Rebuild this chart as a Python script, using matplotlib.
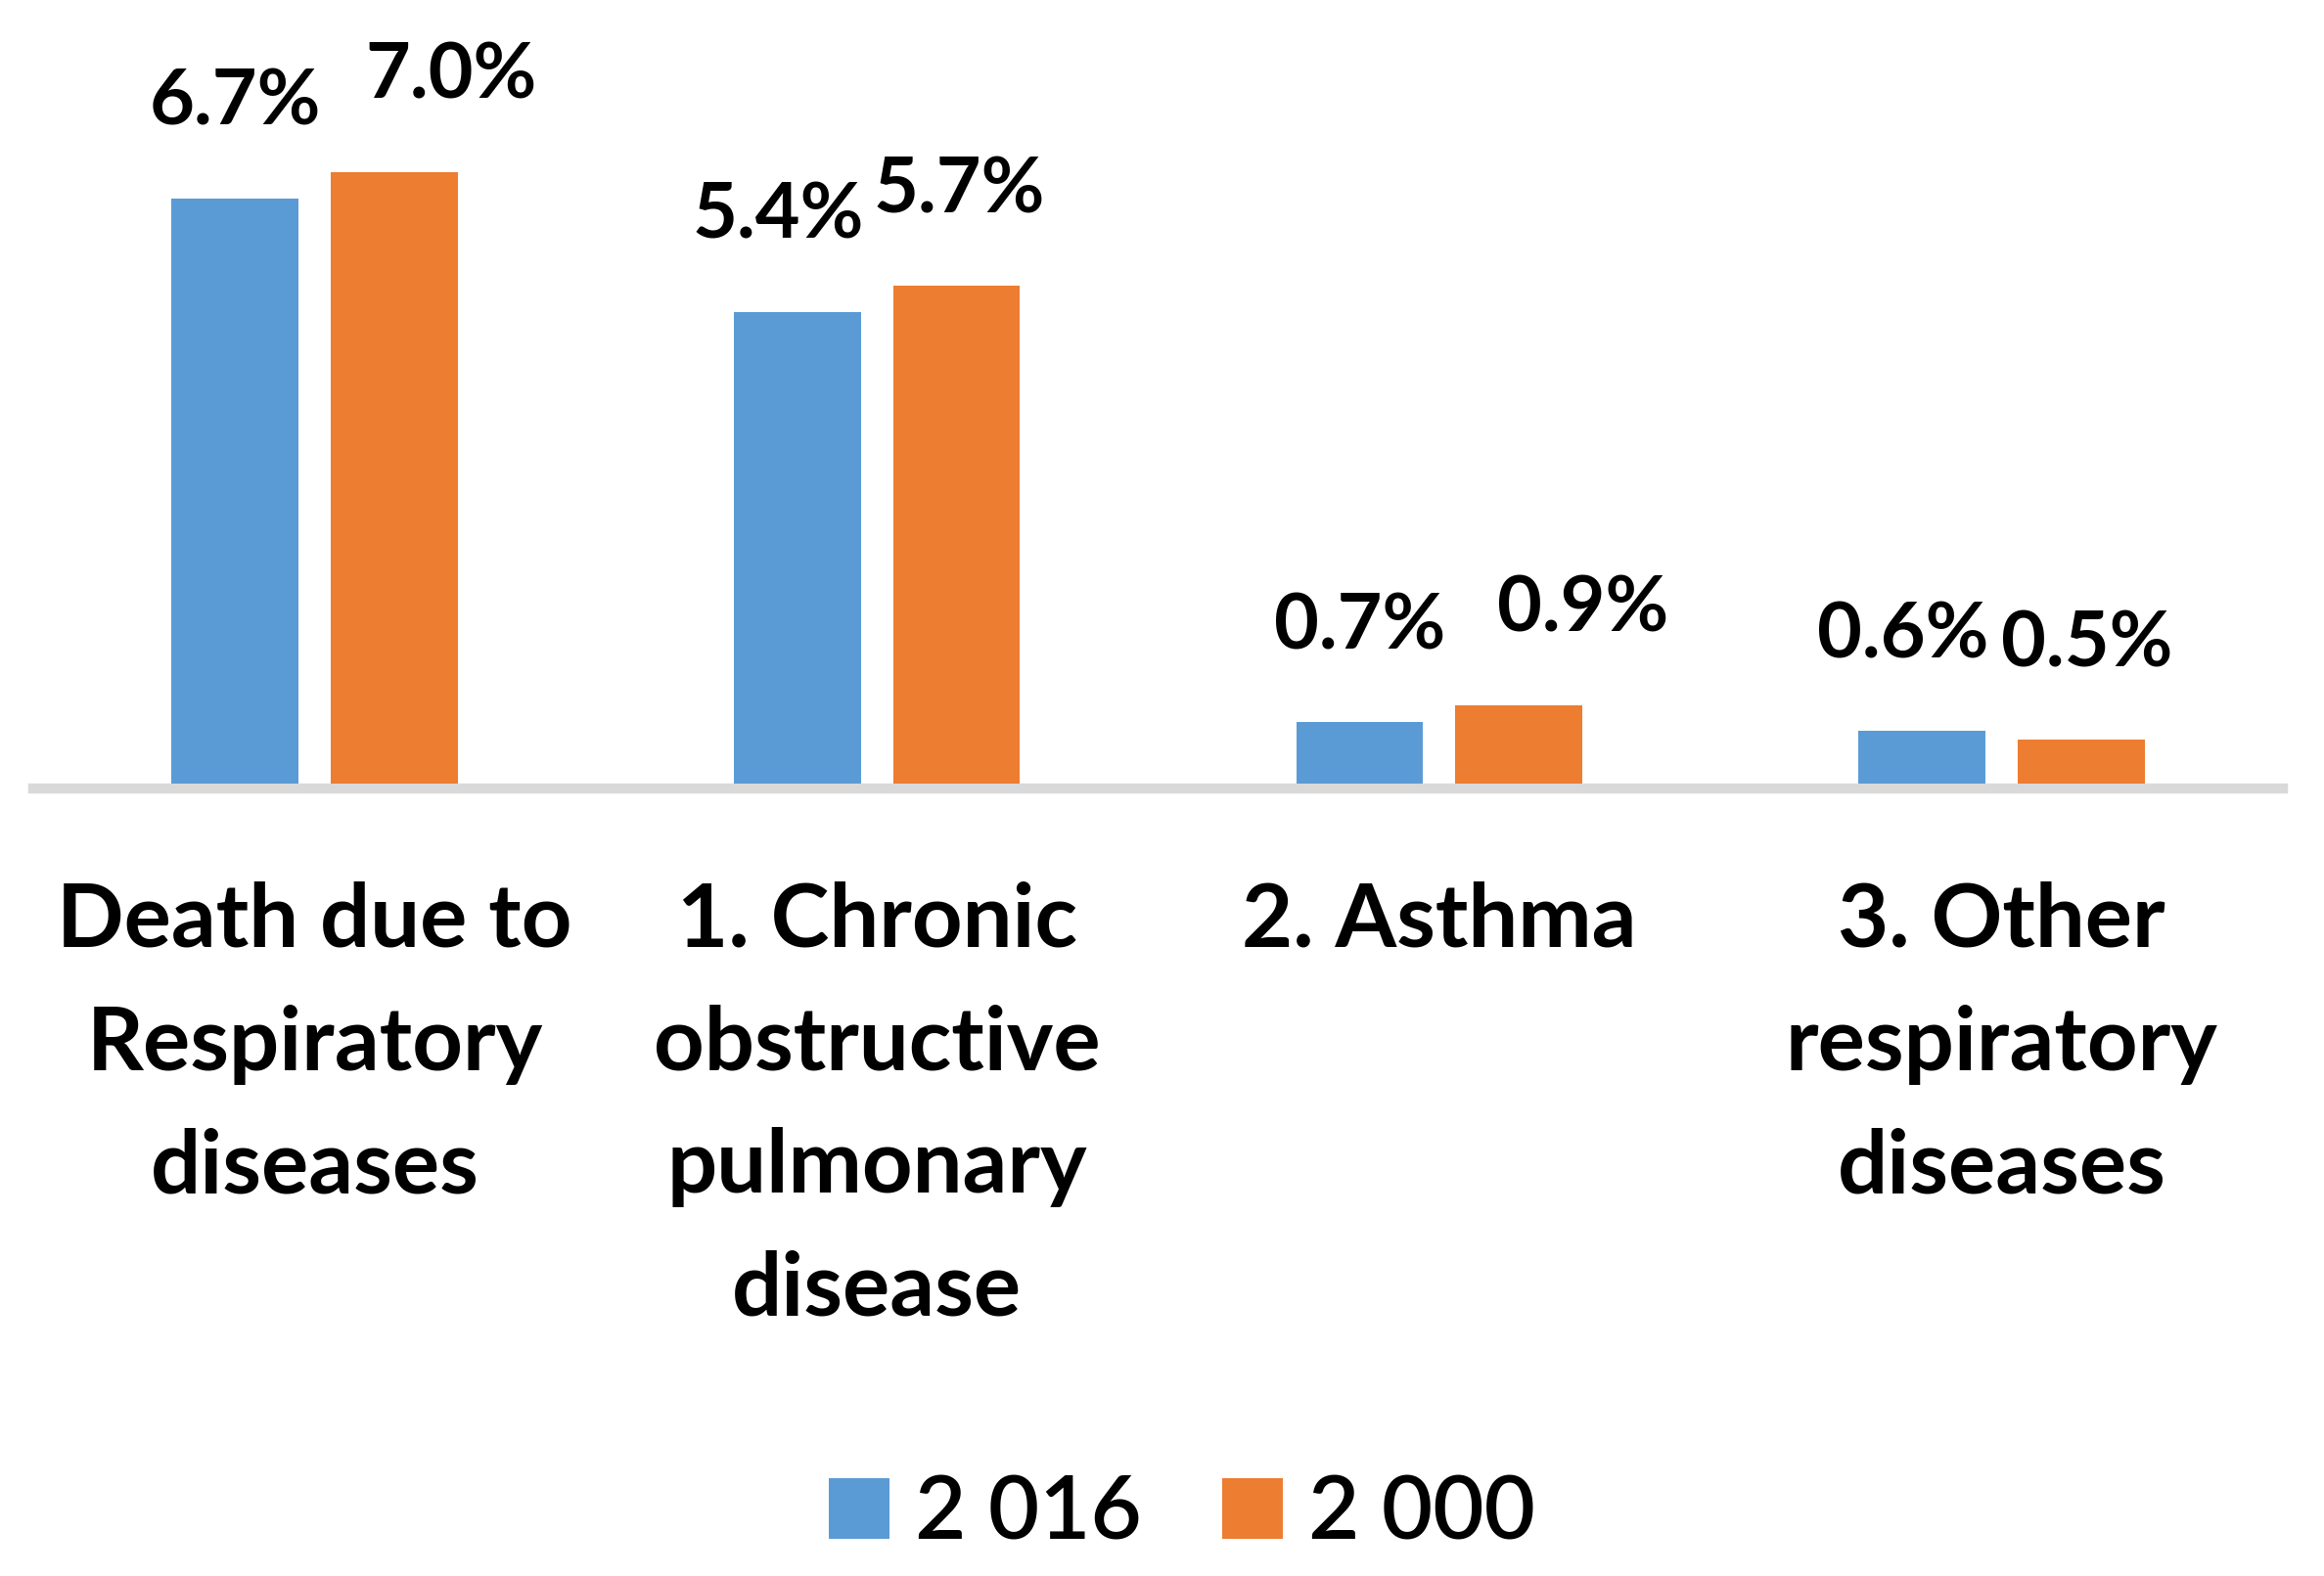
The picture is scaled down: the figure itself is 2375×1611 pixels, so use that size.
import matplotlib
matplotlib.use("Agg")
from matplotlib import pyplot as plt
import numpy as np

# data
categories = ["Death due to\nRespiratory\ndiseases",
              "1. Chronic\nobstructive\npulmonary\ndisease",
              "2. Asthma",
              "3. Other\nrespiratory\ndiseases"]
series_names = ["2 016", "2 000"]
values_2016 = [6.7, 5.4, 0.7, 0.6]
values_2000 = [7.0, 5.7, 0.9, 0.5]

blue = "#5B9BD5"
orange = "#ED7D31"

# small horizontal nudges of the value labels (points), as in the original
nudge_2016 = [0, -14, 0, -14]
nudge_2000 = [42, 2, 47, 4]

plt.rcParams["font.family"] = ["Lato", "DejaVu Sans"]

fig = plt.figure(figsize=(23.75, 16.11), dpi=100)
ax = fig.add_axes([34 / 2375, 1 - 801 / 1611, (2333 - 34) / 2375, 801 / 1611])

x = np.arange(len(categories))
width = 0.226
shift = 0.1415

bars_a = ax.bar(x - shift, values_2016, width, color=blue, label=series_names[0], zorder=3)
bars_b = ax.bar(x + shift, values_2000, width, color=orange, label=series_names[1], zorder=3)

for bars, vals, nudge in [(bars_a, values_2016, nudge_2016), (bars_b, values_2000, nudge_2000)]:
    for b, v, dx in zip(bars, vals, nudge):
        ax.annotate(f"{v:.1f}%", (b.get_x() + b.get_width() / 2, v),
                    xytext=(dx, 54), textcoords="offset points",
                    ha="center", va="baseline", fontsize=57, fontweight="bold")

ax.set_xlim(-0.5, len(categories) - 0.5)
ax.set_ylim(0, 8.97)
ax.set_yticks([])
ax.set_xticks([])
for s in ["top", "left", "right"]:
    ax.spines[s].set_visible(False)
ax.spines["bottom"].set_color("#D9D9D9")
ax.spines["bottom"].set_linewidth(7.5)
ax.spines["bottom"].set_position(("outward", 3.75))
ax.patch.set_visible(False)

# category labels below the axis line
trans = matplotlib.transforms.blended_transform_factory(ax.transData, fig.transFigure)
for xi, lab in zip(x, categories):
    ax.text(xi, 1 - 901 / 1611, lab, transform=trans, ha="center", va="top",
            fontsize=65, fontweight="bold", linespacing=1.65, multialignment="center")

fig.legend(loc="center", bbox_to_anchor=(1208 / 2375, 1 - 1548 / 1611), ncol=2,
           frameon=False, prop={"size": 65, "weight": "semibold"},
           handlelength=0.69, handleheight=0.69,
           handletextpad=0.29, columnspacing=0.91, borderpad=0)

fig.savefig("out.png", dpi=100)
